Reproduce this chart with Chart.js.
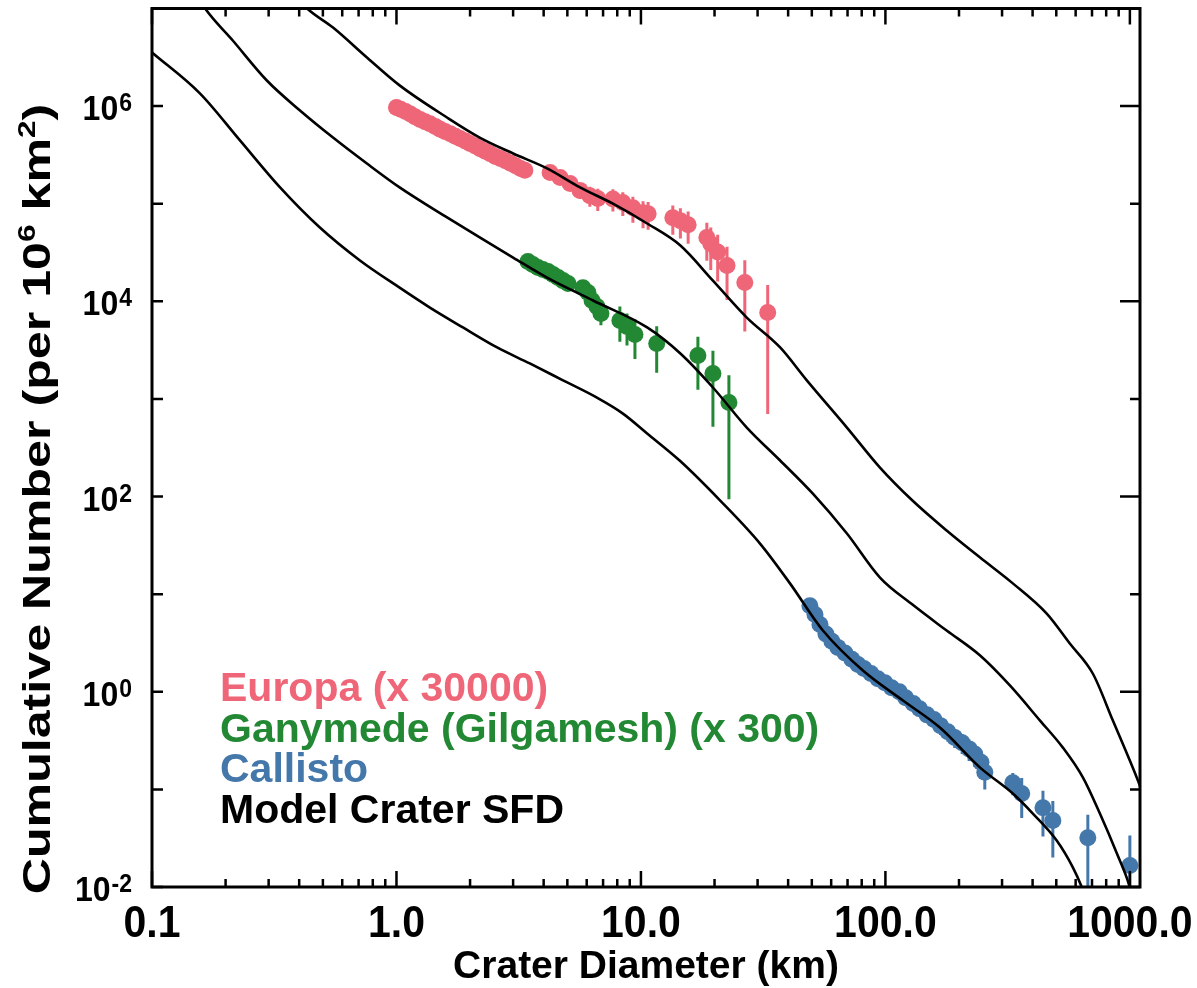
<!DOCTYPE html>
<html>
<head>
<meta charset="utf-8">
<title>Crater size-frequency distributions</title>
<script src="https://cdn.jsdelivr.net/npm/chart.js@4.4.1/dist/chart.umd.min.js"></script>
<style>
  html, body { margin: 0; padding: 0; background: #fff; }
</style>
</head>
<body>
<canvas id="sfdChart" width="1197" height="988"></canvas>
<script>
// --- axis ticks ---
const xMajorTicks = [0.1, 1, 10, 100, 1000];
const xMajorLabels = ['0.1', '1.0', '10.0', '100.0', '1000.0'];
const xMinorTicks = [0.2, 0.3, 0.4, 0.5, 0.6, 0.7, 0.8, 0.9, 2, 3, 4, 5, 6, 7, 8, 9,
  20, 30, 40, 50, 60, 70, 80, 90, 200, 300, 400, 500, 600, 700, 800, 900];
const yMajorTicks = [1e-2, 1e0, 1e2, 1e4, 1e6];
const yMajorExponents = ['-2', '0', '2', '4', '6'];
const yMinorTicks = [1e-1, 1e1, 1e3, 1e5, 1e7];

const xTitle = 'Crater Diameter (km)';
const yTitleParts = [['Cumulative Number (per 10', false], ['6', true], [' km', false], ['2', true], [')', false]];

// --- observed crater counts (diameter km, cumulative number, 1-sigma) ---
const europaD = [1.00, 1.04, 1.09, 1.14, 1.19, 1.25, 1.31, 1.37, 1.44, 1.51, 1.58, 1.66, 1.74, 1.82,
  1.91, 2.00, 2.10, 2.20, 2.31, 2.42, 2.54, 2.66, 2.79, 2.93, 3.07, 3.22, 3.35,
  4.25, 4.67, 5.13, 5.63, 6.18, 6.66, 7.68, 8.43, 9.27, 10.2, 10.7,
  13.5, 14.5, 15.6, 18.6, 19.3, 20.6, 22.5, 26.6, 33.0];
const europaN = [9.7e5, 9.3e5, 8.8e5, 8.3e5, 7.8e5, 7.3e5, 6.9e5, 6.6e5, 6.2e5, 5.8e5, 5.5e5, 5.2e5, 4.9e5, 4.65e5,
  4.4e5, 4.15e5, 3.9e5, 3.65e5, 3.45e5, 3.25e5, 3.05e5, 2.9e5, 2.75e5, 2.6e5, 2.45e5, 2.3e5, 2.2e5,
  2.09e5, 1.86e5, 1.61e5, 1.37e5, 1.21e5, 1.13e5, 1.12e5, 1.03e5, 9.1e4, 8.1e4, 7.9e4,
  7.2e4, 6.7e4, 6.1e4, 4.5e4, 3.9e4, 3.2e4, 2.33e4, 1.56e4, 7.7e3];
const europaErr = [2e4, 2e4, 2e4, 2e4, 2e4, 2e4, 2e4, 2e4, 2e4, 2e4, 2e4, 2e4, 2e4, 2e4,
  2e4, 2e4, 2e4, 2e4, 2e4, 2e4, 2e4, 2e4, 2e4, 2e4, 2e4, 2e4, 2e4,
  2.0e4, 2.0e4, 2.2e4, 2.5e4, 2.8e4, 2.9e4, 2.9e4, 2.8e4, 2.7e4, 2.5e4, 2.5e4,
  2.4e4, 2.3e4, 2.2e4, 1.9e4, 1.8e4, 1.6e4, 1.3e4, 1.07e4, 7.0e3];

const ganymedeD = [3.45, 3.61, 3.79, 3.97, 4.17, 4.37, 4.58, 4.80, 5.03,
  5.79, 6.07, 6.31, 6.61, 6.86, 8.20, 8.77, 9.45, 11.6, 17.1, 19.7, 22.9];
const ganymedeN = [2.56e4, 2.38e4, 2.22e4, 2.12e4, 2.02e4, 1.88e4, 1.75e4, 1.63e4, 1.52e4,
  1.38e4, 1.23e4, 1.02e4, 8.85e3, 7.5e3, 6.36e3, 5.52e3, 4.57e3, 3.7e3, 2.79e3, 1.82e3, 919];
const ganymedeErr = [1.5e3, 1.4e3, 1.4e3, 1.4e3, 1.4e3, 1.4e3, 1.4e3, 1.4e3, 1.5e3,
  2.0e3, 2.0e3, 1.9e3, 1.8e3, 1.8e3, 2.5e3, 2.0e3, 2.0e3, 1.85e3, 1.55e3, 1.3e3, 825];

const callistoD = [49.1, 51.5, 54.0, 57.1, 60.4, 63.9, 68.3, 72.9, 77.2, 81.7, 87.3, 93.2, 99.5, 106,
  114, 121, 130, 138, 148, 158, 168, 180, 192, 206, 220, 232, 246, 255,
  332, 361, 441, 484, 673, 1000];
const callistoN = [7.6, 6.2, 4.9, 3.9, 3.3, 2.85, 2.5, 2.15, 1.9, 1.73, 1.54, 1.36, 1.24, 1.1,
  1.0, 0.87, 0.76, 0.67, 0.58, 0.52, 0.45, 0.39, 0.34, 0.30, 0.26, 0.23, 0.19, 0.15,
  0.117, 0.091, 0.065, 0.048, 0.032, 0.0166];
const callistoErr = [0.5, 0.45, 0.4, 0.35, 0.3, 0.28, 0.26, 0.23, 0.21, 0.2, 0.18, 0.17, 0.16, 0.15,
  0.14, 0.13, 0.12, 0.11, 0.1, 0.095, 0.09, 0.08, 0.075, 0.07, 0.065, 0.06, 0.055, 0.05,
  0.03, 0.04, 0.032, 0.028, 0.023, 0.017];

// --- model crater SFD curves ---
const modelHighD = [0.38, 0.431, 0.550, 0.757, 1.03, 1.61, 2.19, 3.00, 4.13, 5.63, 7.68, 10.6, 14.5, 19.7,
  27.1, 37.1, 47.7, 69.6, 95.0, 129, 178, 244, 332, 457, 568, 706, 852, 1079, 1150];
const modelHighN = [1.41e7, 1.0e7, 6.38e6, 3.15e6, 1.63e6, 7.64e5, 4.76e5, 3.27e5, 2.30e5, 1.47e5, 1.00e5, 6.27e4, 3.73e4, 1.63e4,
  6.82e3, 3.37e3, 1.55e3, 509, 198, 91, 44.9, 23.7, 12.9, 6.32, 3.12, 1.53, 0.507, 0.123, 0.0794];
const modelMidD = [0.14, 0.165, 0.214, 0.295, 0.403, 0.550, 0.757, 1.03, 1.61, 2.19, 3.00, 4.13, 6.37,
  10.6, 14.5, 19.7, 27.1, 37.1, 50.5, 69.6, 95.0, 129, 178, 244, 323, 429, 532, 643, 754, 885, 1000, 1060];
const modelMidN = [2.0e7, 1.0e7, 4.70e6, 1.83e6, 9.02e5, 4.76e5, 2.58e5, 1.47e5, 7.23e4, 4.51e4, 2.81e4, 1.75e4, 1.02e4,
  5.40e3, 2.92e3, 1.31e3, 509, 234, 107, 41.8, 14.8, 7.82, 4.24, 2.35, 1.16, 0.507, 0.268, 0.132, 0.0565, 0.022, 0.00986, 0.005];
const modelLowD = [0.1, 0.157, 0.229, 0.334, 0.486, 0.709, 1.03, 1.37, 1.87, 2.58, 3.51, 4.80, 6.61, 8.44, 10.6,
  14.4, 21.1, 30.7, 40.7, 55.5, 80.9, 118, 167, 244, 332, 401, 502, 585, 637, 680];
const modelLowN = [3.54e6, 1.35e6, 4.45e5, 1.47e5, 5.70e4, 2.62e4, 1.38e4, 8.63e3, 5.40e3, 3.37e3, 2.31e3, 1.55e3, 1.03e3, 708, 443,
  234, 91.0, 33.0, 12.9, 4.24, 1.65, 0.813, 0.430, 0.167, 0.0906, 0.0565, 0.0299, 0.0158, 0.00986, 0.0063];

const legendLabels = ['Europa (x 30000)', 'Ganymede (Gilgamesh) (x 300)', 'Callisto', 'Model Crater SFD'];
const legendColors = ['#EE6677', '#228833', '#4477AA', '#000000'];

const FONT = "'Liberation Sans', Arial, Helvetica, sans-serif";

function pts(xs, ys) {
  return xs.map((v, i) => ({ x: v, y: ys[i] }));
}

function modelLine(xs, ys) {
  return {
    type: 'line', data: pts(xs, ys), borderColor: '#000', borderWidth: 2.6,
    pointRadius: 0, cubicInterpolationMode: 'monotone', fill: false, order: 0
  };
}

function craterSet(label, xs, ys, errs, color) {
  return {
    label: label, data: pts(xs, ys), errors: errs, backgroundColor: color, borderColor: color,
    pointRadius: 8.5, pointBorderWidth: 0, showLine: false, clip: 10, order: 1
  };
}

// bold text, optionally stretched vertically
function drawText(ctx, text, x, y, size, align, color, sy) {
  ctx.save();
  ctx.font = `bold ${size}px ${FONT}`;
  ctx.fillStyle = color;
  ctx.textAlign = align;
  ctx.textBaseline = 'alphabetic';
  ctx.translate(x, y);
  ctx.scale(1, sy || 1);
  ctx.fillText(text, 0, 0);
  ctx.restore();
}

const errorBars = {
  id: 'errorBars',
  beforeDatasetsDraw(chart) {
    const { ctx, chartArea, scales: { x, y } } = chart;
    ctx.save();
    ctx.beginPath();
    ctx.rect(chartArea.left, chartArea.top, chartArea.right - chartArea.left, chartArea.bottom - chartArea.top);
    ctx.clip();
    ctx.lineWidth = 3;
    chart.data.datasets.forEach(ds => {
      if (!ds.errors) return;
      ctx.strokeStyle = ds.backgroundColor;
      ds.data.forEach((p, i) => {
        const e = ds.errors[i];
        const px = x.getPixelForValue(p.x);
        const top = y.getPixelForValue(p.y + e);
        const bot = p.y - e > 0 ? y.getPixelForValue(p.y - e) : chartArea.bottom + 5;
        ctx.beginPath();
        ctx.moveTo(px, top);
        ctx.lineTo(px, bot);
        ctx.stroke();
      });
    });
    ctx.restore();
  }
};

const frameAndText = {
  id: 'frameAndText',
  afterDraw(chart) {
    const { ctx, chartArea: a, scales: { x, y } } = chart;
    ctx.save();
    ctx.strokeStyle = '#000';
    ctx.lineWidth = 3;
    ctx.strokeRect(a.left, a.top, a.right - a.left, a.bottom - a.top);

    // x ticks, inward on bottom and top
    ctx.lineWidth = 2.5;
    const xTick = (v, len) => {
      const px = x.getPixelForValue(v);
      ctx.beginPath();
      ctx.moveTo(px, a.bottom); ctx.lineTo(px, a.bottom - len);
      ctx.moveTo(px, a.top); ctx.lineTo(px, a.top + len);
      ctx.stroke();
    };
    xMajorTicks.forEach(v => xTick(v, 16));
    xMinorTicks.forEach(v => xTick(v, 8));

    // y ticks
    const yTick = (v, lenL, lenR) => {
      const py = y.getPixelForValue(v);
      ctx.beginPath();
      ctx.moveTo(a.left, py); ctx.lineTo(a.left + lenL, py);
      ctx.moveTo(a.right, py); ctx.lineTo(a.right - lenR, py);
      ctx.stroke();
    };
    yMajorTicks.forEach(v => yTick(v, 11, 20));
    yMinorTicks.forEach(v => yTick(v, 11, 10));

    // x tick labels
    xMajorTicks.forEach((v, i) => {
      drawText(ctx, xMajorLabels[i], x.getPixelForValue(v), a.bottom + 50, 41, 'center', '#000', 1.1);
    });

    // y tick labels: 10 with a raised exponent
    yMajorTicks.forEach((v, i) => {
      const py = y.getPixelForValue(v);
      ctx.font = `bold 23px ${FONT}`;
      const wExp = ctx.measureText(yMajorExponents[i]).width;
      drawText(ctx, yMajorExponents[i], a.left - 20, py + 5, 23, 'right', '#000', 1.1);
      drawText(ctx, '10', a.left - 21 - wExp, py + 14, 32, 'right', '#000', 1.12);
    });

    // x title
    drawText(ctx, xTitle, (a.left + a.right) / 2, 978, 39, 'center', '#000', 1.0);

    // y title, rotated, stretched along its length
    ctx.save();
    ctx.translate(50, 499);
    ctx.rotate(-Math.PI / 2);
    ctx.scale(1.32, 1);
    const big = `bold 38px ${FONT}`, small = `bold 24px ${FONT}`;
    let total = 0;
    yTitleParts.forEach(([t, sup]) => { ctx.font = sup ? small : big; total += ctx.measureText(t).width; });
    let cx = -total / 2;
    ctx.fillStyle = '#000';
    ctx.textBaseline = 'alphabetic';
    ctx.textAlign = 'left';
    yTitleParts.forEach(([t, sup]) => {
      ctx.font = sup ? small : big;
      ctx.fillText(t, cx, sup ? -15 : 0);
      cx += ctx.measureText(t).width;
    });
    ctx.restore();

    // legend text
    legendLabels.forEach((t, i) => {
      drawText(ctx, t, 220, 701 + i * 40.7, 41, 'left', legendColors[i], 1.0);
    });
    ctx.restore();
  }
};

const chart = new Chart(document.getElementById('sfdChart').getContext('2d'), {
  type: 'scatter',
  data: {
    datasets: [
      modelLine(modelHighD, modelHighN),
      modelLine(modelMidD, modelMidN),
      modelLine(modelLowD, modelLowN),
      craterSet(legendLabels[0], europaD, europaN, europaErr, legendColors[0]),
      craterSet(legendLabels[1], ganymedeD, ganymedeN, ganymedeErr, legendColors[1]),
      craterSet(legendLabels[2], callistoD, callistoN, callistoErr, legendColors[2])
    ]
  },
  options: {
    responsive: false,
    animation: false,
    layout: { padding: { left: 152, right: 57, top: 8, bottom: 101 } },
    scales: {
      x: { type: 'logarithmic', min: 0.1, max: 1100, display: false },
      y: { type: 'logarithmic', min: 1e-2, max: 1e7, display: false }
    },
    plugins: { legend: { display: false }, tooltip: { enabled: false } }
  },
  plugins: [errorBars, frameAndText]
});
</script>
</body>
</html>
